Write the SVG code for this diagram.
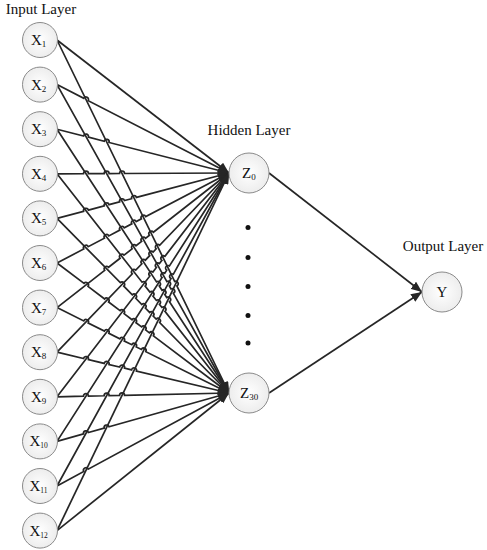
<svg xmlns="http://www.w3.org/2000/svg" width="487" height="550" viewBox="0 0 487 550">
<defs>
<radialGradient id="g" cx="50%" cy="50%" r="55%">
<stop offset="0" stop-color="#ffffff"/>
<stop offset="1" stop-color="#ebebeb"/>
</radialGradient>
<marker id="ah" markerUnits="userSpaceOnUse" markerWidth="11" markerHeight="9" refX="11" refY="4.5" orient="auto">
<path d="M0,0 L11,4.5 L0,9 z" fill="#262626"/>
</marker>
<style>
.n{fill:url(#g);stroke:#8a8a8a;stroke-width:1}
.t{font-family:"Liberation Serif","Times New Roman",serif;font-size:15px;fill:#111}
.s{font-size:9px}
.s2{font-size:7.5px}
.l{font-family:"Liberation Serif","Times New Roman",serif;font-size:15px;fill:#111;text-anchor:middle}
.c path{fill:none;stroke:#262626;stroke-width:1.7;marker-end:url(#ah)}
</style>
</defs>
<rect width="487" height="550" fill="#fff"/>
<text class="l" x="41" y="14">Input Layer</text>
<text class="l" x="249" y="135">Hidden Layer</text>
<text class="l" x="443" y="251">Output Layer</text>
<g id="connectors" class="c">
<path d="M57,40 L229,173"/>
<path d="M57,40 L174.65,281.46 a2.5,2.5 0 0 1 2.19,4.49 L229,393"/>
<path d="M57,84.6 L83.77,98.36 a2.5,2.5 0 0 1 4.45,2.29 L229,173"/>
<path d="M57,84.6 L166.89,281.63 a2.5,2.5 0 0 1 2.44,4.37 L170.96,288.94 a2.5,2.5 0 0 1 2.44,4.37 L229,393"/>
<path d="M57,129.2 L83.57,135.96 a2.5,2.5 0 0 1 4.85,1.23 L104.2,141.22 a2.5,2.5 0 0 1 4.85,1.23 L229,173"/>
<path d="M57,129.2 L156.53,281.86 a2.5,2.5 0 0 1 2.73,4.19 L162.03,290.29 a2.5,2.5 0 0 1 2.73,4.19 L166.74,297.51 a2.5,2.5 0 0 1 2.73,4.19 L229,393"/>
<path d="M57,173.8 L83.49,173.68 a2.5,2.5 0 0 1 5,-0.02 L104.12,173.58 a2.5,2.5 0 0 1 5,-0.02 L119.55,173.51 a2.5,2.5 0 0 1 5,-0.02 L229,173"/>
<path d="M57,173.8 L142.04,282.17 a2.5,2.5 0 0 1 3.09,3.93 L149.86,292.13 a2.5,2.5 0 0 1 3.09,3.93 L156.36,300.42 a2.5,2.5 0 0 1 3.09,3.93 L161.86,307.42 a2.5,2.5 0 0 1 3.09,3.93 L229,393"/>
<path d="M57,218.4 L83.57,211.39 a2.5,2.5 0 0 1 4.83,-1.28 L104.2,205.94 a2.5,2.5 0 0 1 4.83,-1.28 L119.63,201.87 a2.5,2.5 0 0 1 4.83,-1.28 L131.6,198.71 a2.5,2.5 0 0 1 4.83,-1.28 L229,173"/>
<path d="M57,218.4 L120.3,282.65 a2.5,2.5 0 0 1 3.51,3.56 L132.27,294.8 a2.5,2.5 0 0 1 3.51,3.56 L141.83,304.51 a2.5,2.5 0 0 1 3.51,3.56 L149.65,312.44 a2.5,2.5 0 0 1 3.51,3.56 L156.15,319.04 a2.5,2.5 0 0 1 3.51,3.56 L229,393"/>
<path d="M57,263 L83.77,248.99 a2.5,2.5 0 0 1 4.43,-2.32 L104.4,238.2 a2.5,2.5 0 0 1 4.43,-2.32 L119.83,230.12 a2.5,2.5 0 0 1 4.43,-2.32 L131.8,223.86 a2.5,2.5 0 0 1 4.43,-2.32 L141.36,218.85 a2.5,2.5 0 0 1 4.43,-2.32 L229,173"/>
<path d="M57,263 L84,283.4 a2.5,2.5 0 0 1 3.99,3.01 L104.63,298.99 a2.5,2.5 0 0 1 3.99,3.01 L120.06,310.65 a2.5,2.5 0 0 1 3.99,3.01 L132.03,319.7 a2.5,2.5 0 0 1 3.99,3.01 L141.59,326.93 a2.5,2.5 0 0 1 3.99,3.01 L149.41,332.84 a2.5,2.5 0 0 1 3.99,3.01 L229,393"/>
<path d="M57,307.6 L104.65,270.31 a2.5,2.5 0 0 1 3.94,-3.08 L120.08,258.24 a2.5,2.5 0 0 1 3.94,-3.08 L132.05,248.87 a2.5,2.5 0 0 1 3.94,-3.08 L141.61,241.38 a2.5,2.5 0 0 1 3.94,-3.08 L149.43,235.27 a2.5,2.5 0 0 1 3.94,-3.08 L229,173"/>
<path d="M57,307.6 L83.75,320.89 a2.5,2.5 0 0 1 4.48,2.22 L104.38,331.13 a2.5,2.5 0 0 1 4.48,2.22 L119.81,338.79 a2.5,2.5 0 0 1 4.48,2.22 L131.78,344.73 a2.5,2.5 0 0 1 4.48,2.22 L141.34,349.48 a2.5,2.5 0 0 1 4.48,2.22 L229,393"/>
<path d="M57,352.2 L132.29,273.76 a2.5,2.5 0 0 1 3.46,-3.61 L141.85,263.79 a2.5,2.5 0 0 1 3.46,-3.61 L149.67,255.65 a2.5,2.5 0 0 1 3.46,-3.61 L156.17,248.88 a2.5,2.5 0 0 1 3.46,-3.61 L229,173"/>
<path d="M57,352.2 L83.56,358.5 a2.5,2.5 0 0 1 4.87,1.15 L104.19,363.39 a2.5,2.5 0 0 1 4.87,1.15 L119.62,367.05 a2.5,2.5 0 0 1 4.87,1.15 L131.59,369.89 a2.5,2.5 0 0 1 4.87,1.15 L229,393"/>
<path d="M57,396.8 L149.88,275.96 a2.5,2.5 0 0 1 3.05,-3.96 L156.38,267.49 a2.5,2.5 0 0 1 3.05,-3.96 L161.88,260.34 a2.5,2.5 0 0 1 3.05,-3.96 L229,173"/>
<path d="M57,396.8 L83.49,396.22 a2.5,2.5 0 0 1 5,-0.11 L104.12,395.76 a2.5,2.5 0 0 1 5,-0.11 L119.55,395.42 a2.5,2.5 0 0 1 5,-0.11 L229,393"/>
<path d="M57,441.4 L162.05,277.47 a2.5,2.5 0 0 1 2.7,-4.21 L166.76,270.12 a2.5,2.5 0 0 1 2.7,-4.21 L229,173"/>
<path d="M57,441.4 L83.58,433.92 a2.5,2.5 0 0 1 4.81,-1.35 L104.21,428.12 a2.5,2.5 0 0 1 4.81,-1.35 L229,393"/>
<path d="M57,486 L170.98,278.58 a2.5,2.5 0 0 1 2.41,-4.38 L229,173"/>
<path d="M57,486 L83.79,471.51 a2.5,2.5 0 0 1 4.4,-2.38 L229,393"/>
<path d="M57,530.6 L229,173"/>
<path d="M57,530.6 L229,393"/>
<path d="M269,173 L422,292"/>
<path d="M269,393 L422,292"/>
</g>
<g id="x1"><circle class="n" cx="40" cy="40" r="17.5"/><text class="t" x="31" y="45">X<tspan class="s" dy="2">1</tspan></text></g>
<g id="x2"><circle class="n" cx="40" cy="84.6" r="17.5"/><text class="t" x="31" y="89.6">X<tspan class="s" dy="2">2</tspan></text></g>
<g id="x3"><circle class="n" cx="40" cy="129.2" r="17.5"/><text class="t" x="31" y="134.2">X<tspan class="s" dy="2">3</tspan></text></g>
<g id="x4"><circle class="n" cx="40" cy="173.8" r="17.5"/><text class="t" x="31" y="178.8">X<tspan class="s" dy="2">4</tspan></text></g>
<g id="x5"><circle class="n" cx="40" cy="218.4" r="17.5"/><text class="t" x="31" y="223.4">X<tspan class="s" dy="2">5</tspan></text></g>
<g id="x6"><circle class="n" cx="40" cy="263" r="17.5"/><text class="t" x="31" y="268">X<tspan class="s" dy="2">6</tspan></text></g>
<g id="x7"><circle class="n" cx="40" cy="307.6" r="17.5"/><text class="t" x="31" y="312.6">X<tspan class="s" dy="2">7</tspan></text></g>
<g id="x8"><circle class="n" cx="40" cy="352.2" r="17.5"/><text class="t" x="31" y="357.2">X<tspan class="s" dy="2">8</tspan></text></g>
<g id="x9"><circle class="n" cx="40" cy="396.8" r="17.5"/><text class="t" x="31" y="401.8">X<tspan class="s" dy="2">9</tspan></text></g>
<g id="x10"><circle class="n" cx="40" cy="441.4" r="17.5"/><text class="t" x="29.5" y="446.4">X<tspan class="s2" dy="2">10</tspan></text></g>
<g id="x11"><circle class="n" cx="40" cy="486" r="17.5"/><text class="t" x="29.5" y="491">X<tspan class="s2" dy="2">11</tspan></text></g>
<g id="x12"><circle class="n" cx="40" cy="530.6" r="17.5"/><text class="t" x="29.5" y="535.6">X<tspan class="s2" dy="2">12</tspan></text></g>
<g id="z0"><circle class="n" cx="249" cy="173" r="20"/><text class="t" x="242" y="178">Z<tspan class="s" dy="2">0</tspan></text></g>
<g id="z30"><circle class="n" cx="249" cy="393" r="20"/><text class="t" x="240" y="398">Z<tspan class="s" dy="2">30</tspan></text></g>
<g id="y"><circle class="n" cx="442" cy="292" r="20"/><text class="t" x="442" y="297" text-anchor="middle">Y</text></g>
<g id="dots" fill="#111">
<circle cx="248" cy="227.5" r="2.5"/>
<circle cx="248" cy="257.5" r="2.5"/>
<circle cx="248" cy="286.5" r="2.5"/>
<circle cx="248" cy="315.5" r="2.5"/>
<circle cx="248" cy="343" r="2.5"/>
</g>
</svg>
